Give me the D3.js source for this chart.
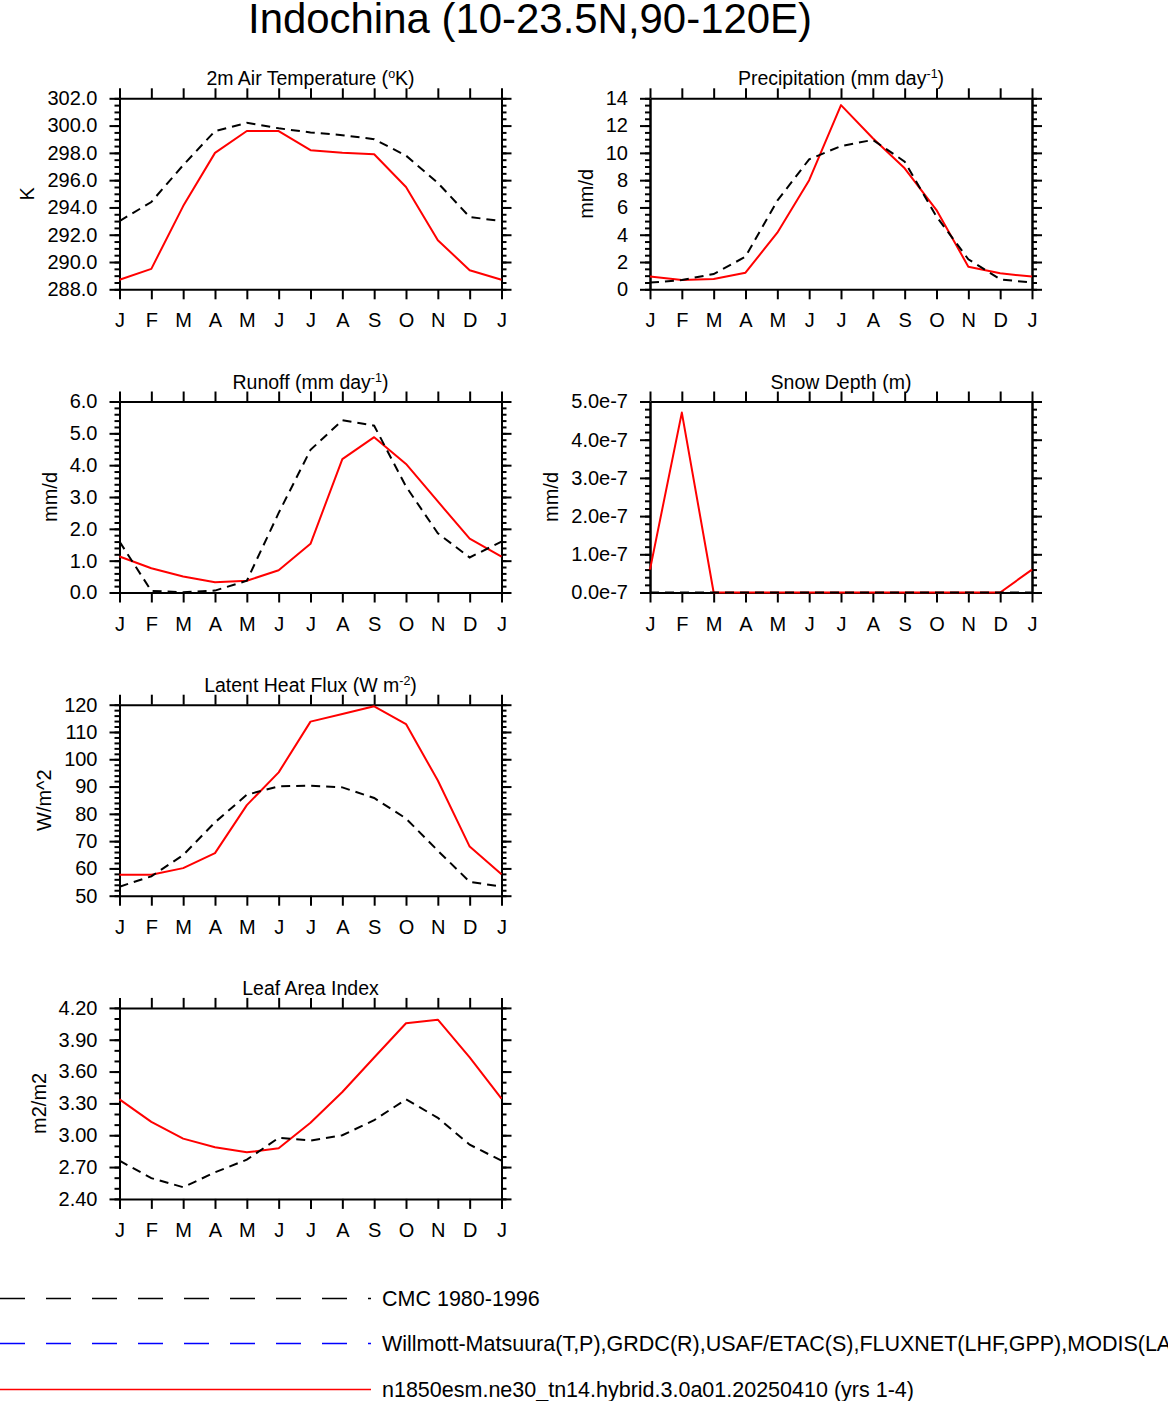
<!DOCTYPE html>
<html>
<head>
<meta charset="utf-8">
<script src="https://cdn.jsdelivr.net/npm/d3@7"></script>
<style>
  body { margin: 0; background: #fff; }
  svg { display: block; font-family: "Liberation Sans", Arial, Helvetica, sans-serif; }
</style>
</head>
<body>
<svg id="chart" width="1168" height="1401"></svg>
<script>
// month labels, J..J (the cycle closes on January again)
const months = ["J","F","M","A","M","J","J","A","S","O","N","D","J"];

// 2m air temperature (K)
const tempModel = [288.7, 289.5, 294.1, 298.0, 299.6, 299.6, 298.2, 298.0, 297.9, 295.5, 291.6, 289.4, 288.7];
const tempObs   = [293.0, 294.4, 297.1, 299.6, 300.2, 299.8, 299.5, 299.3, 299.0, 297.8, 295.8, 293.3, 293.0];
const tempTicks = [288, 290, 292, 294, 296, 298, 300, 302];

// precipitation (mm/d)
const precModel = [0.93, 0.68, 0.76, 1.22, 4.15, 8.0, 13.5, 11.07, 8.87, 5.81, 1.66, 1.17, 0.93];
const precObs   = [0.49, 0.68, 1.12, 2.39, 6.5, 9.53, 10.5, 10.95, 9.36, 5.33, 2.2, 0.73, 0.49];
const precTicks = [0, 2, 4, 6, 8, 10, 12, 14];

// runoff (mm/d)
const runModel = [1.13, 0.76, 0.50, 0.32, 0.37, 0.70, 1.53, 4.19, 4.88, 4.04, 2.86, 1.69, 1.13];
const runObs   = [1.60, 0.05, 0.01, 0.06, 0.37, 2.5, 4.48, 5.41, 5.24, 3.33, 1.86, 1.10, 1.60];
const runTicks = [0, 1, 2, 3, 4, 5, 6];

// snow depth (m)
const snowModel = [0.6e-7, 4.71e-7, 0, 0, 0, 0, 0, 0, 0, 0, 0, 0, 0.6e-7];
const snowObs   = [0, 0, 0, 0, 0, 0, 0, 0, 0, 0, 0, 0, 0];
const snowTicks = [0, 1e-7, 2e-7, 3e-7, 4e-7, 5e-7];

// latent heat flux (W/m^2)
const lhfModel = [57.7, 57.7, 60.1, 65.6, 83.2, 95.2, 113.8, 116.6, 119.4, 112.9, 92.2, 68.0, 57.9];
const lhfObs   = [53.3, 57.1, 64.9, 76.9, 87.0, 90.1, 90.3, 89.7, 85.8, 78.3, 66.5, 55.1, 53.3];
const lhfTicks = [50, 60, 70, 80, 90, 100, 110, 120];

// leaf area index (m2/m2)
const laiModel = [3.338, 3.126, 2.968, 2.886, 2.839, 2.877, 3.117, 3.407, 3.733, 4.055, 4.089, 3.733, 3.345];
const laiObs   = [2.76, 2.596, 2.51, 2.65, 2.77, 2.975, 2.95, 3.0, 3.142, 3.338, 3.164, 2.911, 2.76];
const laiTicks = [2.4, 2.7, 3.0, 3.3, 3.6, 3.9, 4.2];

const legendNames = [
  "CMC 1980-1996",
  "Willmott-Matsuura(T,P),GRDC(R),USAF/ETAC(S),FLUXNET(LHF,GPP),MODIS(LAI)",
  "n1850esm.ne30_tn14.hybrid.3.0a01.20250410 (yrs 1-4)"
];
const legendColors = ["#000", "#0000ff", "#ff0000"];

const panels = [
  {title: ["2m Air Temperature (", "o", "K)"], ylabel: "K", model: tempModel, obs: tempObs,
   ticks: tempTicks, minor: 0.5, fmt: d3.format(".1f"), col: 0, row: 0},
  {title: ["Precipitation (mm day", "-1", ")"], ylabel: "mm/d", model: precModel, obs: precObs,
   ticks: precTicks, minor: 0.5, fmt: d3.format("d"), col: 1, row: 0},
  {title: ["Runoff (mm day", "-1", ")"], ylabel: "mm/d", model: runModel, obs: runObs,
   ticks: runTicks, minor: 0.2, fmt: d3.format(".1f"), col: 0, row: 1},
  {title: ["Snow Depth (m)"], ylabel: "mm/d", model: snowModel, obs: snowObs,
   ticks: snowTicks, minor: 0.2e-7, fmt: v => (v / 1e-7).toFixed(1) + "e-7", col: 1, row: 1},
  {title: ["Latent Heat Flux (W m", "-2", ")"], ylabel: "W/m^2", model: lhfModel, obs: lhfObs,
   ticks: lhfTicks, minor: 2, fmt: d3.format("d"), col: 0, row: 2},
  {title: ["Leaf Area Index"], ylabel: "m2/m2", model: laiModel, obs: laiObs,
   ticks: laiTicks, minor: 0.1, fmt: d3.format(".2f"), col: 0, row: 3}
];

const svg = d3.select("#chart");

// plot boxes: two columns, four rows
const colX = [119.5, 650], rowY0 = 98.3, rowStep = 303.2;
const pw = 382, ph = 191;

svg.append("text")
  .attr("x", 530).attr("y", 33)
  .attr("text-anchor", "middle")
  .attr("font-size", 42)
  .attr("textLength", 564).attr("lengthAdjust", "spacingAndGlyphs")
  .text("Indochina (10-23.5N,90-120E)");

function styleAxis(g) {
  g.selectAll("path, line").attr("stroke", "#000").attr("stroke-width", 2);
  g.selectAll("text").attr("fill", "#000").attr("font-size", 20)
    .attr("font-family", "Liberation Sans, Arial, Helvetica, sans-serif");
  g.attr("font-family", null).attr("font-size", null);
}

panels.forEach(p => {
  const g = svg.append("g")
    .attr("transform", `translate(${colX[p.col]},${rowY0 + p.row * rowStep})`);

  const x = d3.scaleLinear().domain([0, months.length - 1]).range([0, pw]);
  const y = d3.scaleLinear().domain([p.ticks[0], p.ticks[p.ticks.length - 1]]).range([ph, 0]);

  const nMinor = Math.round((y.domain()[1] - y.domain()[0]) / p.minor);
  const minorVals = d3.range(nMinor + 1).map(i => y.domain()[0] + i * p.minor);
  const idx = d3.range(months.length);

  // minor ticks, left and right
  g.append("g").call(d3.axisLeft(y).tickValues(minorVals).tickSize(5).tickSizeOuter(0).tickFormat(""))
    .call(styleAxis);
  g.append("g").attr("transform", `translate(${pw},0)`)
    .call(d3.axisRight(y).tickValues(minorVals).tickSize(5).tickSizeOuter(0).tickFormat(""))
    .call(styleAxis);

  // major ticks + frame
  const yl = g.append("g")
    .call(d3.axisLeft(y).tickValues(p.ticks).tickSize(10).tickSizeOuter(0).tickPadding(12).tickFormat(p.fmt))
    .call(styleAxis);
  g.append("g").attr("transform", `translate(${pw},0)`)
    .call(d3.axisRight(y).tickValues(p.ticks).tickSize(10).tickSizeOuter(0).tickFormat(""))
    .call(styleAxis);
  g.append("g").attr("transform", `translate(0,${ph})`)
    .call(d3.axisBottom(x).tickValues(idx).tickSize(10).tickSizeOuter(0).tickPadding(14).tickFormat(i => months[i]))
    .call(styleAxis);
  g.append("g")
    .call(d3.axisTop(x).tickValues(idx).tickSize(10).tickSizeOuter(0).tickFormat(""))
    .call(styleAxis);

  // y label sits just left of the widest tick label
  let minX = 0;
  yl.selectAll(".tick text").each(function() {
    const b = this.getBBox();
    const t = this.parentNode.transform.baseVal.consolidate();
    minX = Math.min(minX, b.x + (t ? t.matrix.e : 0));
  });
  const lx = minX - 13;
  g.append("text")
    .attr("transform", `translate(${lx},${ph / 2}) rotate(-90)`)
    .attr("text-anchor", "middle")
    .attr("font-size", 20)
    .text(p.ylabel);

  // panel title, with optional superscript
  const tt = g.append("text")
    .attr("x", pw / 2).attr("y", -13)
    .attr("text-anchor", "middle")
    .attr("font-size", 19.5);
  tt.append("tspan").text(p.title[0]);
  if (p.title.length > 1) {
    tt.append("tspan").attr("dy", -7).attr("font-size", 12.5).text(p.title[1]);
    tt.append("tspan").attr("dy", 7).text(p.title[2]);
  }

  const line = d3.line().x((d, i) => x(i)).y(d => y(d));
  g.append("path").datum(p.model)
    .attr("d", line).attr("fill", "none")
    .attr("stroke", "#ff0000").attr("stroke-width", 2).attr("stroke-linejoin", "round");
  g.append("path").datum(p.obs)
    .attr("d", line).attr("fill", "none")
    .attr("stroke", "#000").attr("stroke-width", 2).attr("stroke-dasharray", "9,6");
});

// legend
const legY = [1298, 1343, 1389];
legendNames.forEach((name, i) => {
  svg.append("line")
    .attr("x1", 0).attr("x2", 371).attr("y1", legY[i] + 0.5).attr("y2", legY[i] + 0.5)
    .attr("stroke", legendColors[i]).attr("stroke-width", 1.5)
    .attr("stroke-dasharray", i < 2 ? "25,21" : null);
  svg.append("text")
    .attr("x", 382).attr("y", legY[i] + 8)
    .attr("font-size", 21.5)
    .text(name);
});
</script>
</body>
</html>
